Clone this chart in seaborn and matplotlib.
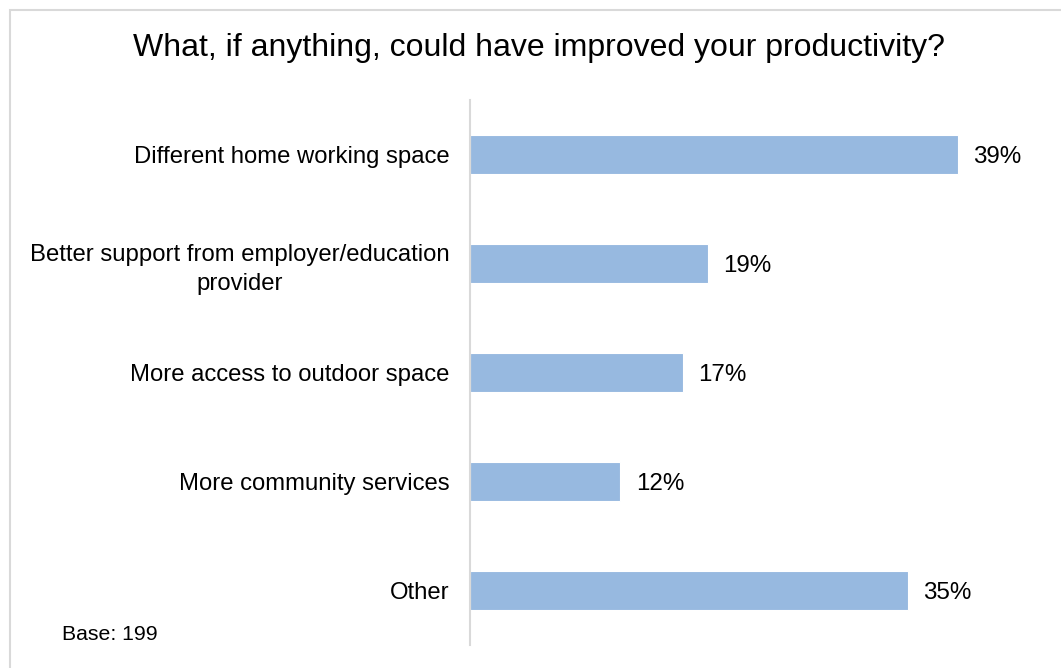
import matplotlib
matplotlib.use("Agg")
import matplotlib.pyplot as plt
import seaborn as sns
import pandas as pd
from matplotlib.patches import Rectangle

categories = [
    "Different home working space",
    "Better support from employer/education\nprovider",
    "More access to outdoor space",
    "More community services",
    "Other",
]
values = [39, 19, 17, 12, 35]
value_labels = ["39%", "19%", "17%", "12%", "35%"]
title = "What, if anything, could have improved your productivity?"
base_note = "Base: 199"

sns.set_theme(style="white")
plt.rcParams["font.family"] = ["Liberation Sans", "DejaVu Sans"]

df = pd.DataFrame({"category": categories, "value": values})

W, H = 1061, 668
fig = plt.figure(figsize=(W / 100, H / 100), dpi=100)
fig.patch.set_facecolor("white")

# light frame around the chart area
fig.add_artist(Rectangle((10 / W, -0.05), 1.1, 1 - 9.5 / H + 0.05,
                         transform=fig.transFigure, fill=False,
                         edgecolor="#d9d9d9", linewidth=1.5))

ax = fig.add_axes([470 / W, 1 - 645 / H, 575 / W, 545 / H])
sns.barplot(data=df, x="value", y="category", orient="h", ax=ax,
            color="#97b9e0", saturation=1, width=0.35,
            edgecolor="white", linewidth=0.8)

ax.set_xlim(0, 46)
ax.set_ylim(4.5, -0.5)
ax.set_xlabel("")
ax.set_ylabel("")
ax.set_xticks([])
for s in ["top", "right", "bottom"]:
    ax.spines[s].set_visible(False)
ax.spines["left"].set_color("#d9d9d9")
ax.spines["left"].set_linewidth(1.5)
ax.tick_params(axis="y", length=0, pad=15, labelsize=17.2, labelcolor="black")
for lbl in ax.get_yticklabels():
    lbl.set_multialignment("center")
    lbl.set_linespacing(1.4)

for container in ax.containers:
    texts = ax.bar_label(container, labels=value_labels, padding=11.5,
                         fontsize=17.4, color="black")
    for t in texts:
        t.set_va("center_baseline")

fig.text(539 / W, 1 - 48 / H, title, ha="center", va="center",
         fontsize=23, color="black")
fig.text(62 / W, 1 - 634 / H, base_note, ha="left", va="center",
         fontsize=15.3, color="black")

fig.savefig("out.png", dpi=100, facecolor="white")
